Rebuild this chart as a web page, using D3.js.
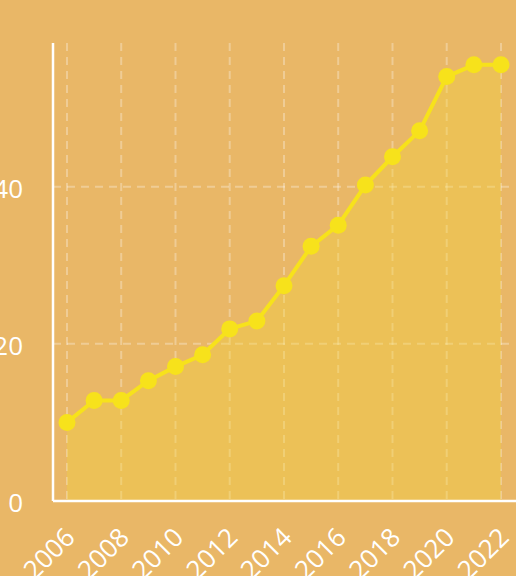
<!DOCTYPE html>
<html>
<head>
<meta charset="utf-8">
<script src="https://cdn.jsdelivr.net/npm/d3@7"></script>
<style>
html,body{margin:0;padding:0;background:#E9B767;}
svg{display:block;}
</style>
</head>
<body>
<svg id="chart" width="516" height="576"></svg>
<script>
const years = [2006,2007,2008,2009,2010,2011,2012,2013,2014,2015,2016,2017,2018,2019,2020,2021,2022];
const values = [10.0,12.8,12.8,15.3,17.1,18.6,21.9,22.9,27.4,32.4,35.1,40.2,43.8,47.1,54.0,55.5,55.5];
const yTicks = [0,20,40];
const xTickYears = [2006,2008,2010,2012,2014,2016,2018,2020,2022];

(function(){
const W = 516, H = 576;
const mLeft = 53, mRight = 516, mTop = 43, mBottom = 501;
const svg = d3.select("#chart");
svg.append("rect").attr("width",W).attr("height",H).attr("fill","#E9B767");

const parse = y => new Date(y,0,1);
const data = years.map((y,i)=>({date:parse(y), v:values[i]}));

const x = d3.scaleTime().domain([parse(2006),parse(2022)]).range([67,501]);
const y = d3.scaleLinear().domain([0, d3.max(values)*1.05]).range([mBottom, mTop]);

const grid = svg.append("g").attr("stroke","rgba(255,255,255,0.3)").attr("stroke-width",2).attr("stroke-dasharray","8,6");
grid.selectAll("line.v").data(xTickYears).join("line")
  .attr("x1",d=>x(parse(d))).attr("x2",d=>x(parse(d)))
  .attr("y1",mTop).attr("y2",mBottom);
grid.selectAll("line.h").data(yTicks.filter(d=>d>0)).join("line")
  .attr("x1",mLeft).attr("x2",510)
  .attr("y1",d=>y(d)).attr("y2",d=>y(d));

const area = d3.area().x(d=>x(d.date)).y0(y(0)).y1(d=>y(d.v));
svg.append("path").datum(data).attr("d",area).attr("fill","#F3D43A").attr("fill-opacity",0.35);

const line = d3.line().x(d=>x(d.date)).y(d=>y(d.v));
svg.append("path").datum(data).attr("d",line).attr("fill","none").attr("stroke","#F7E21B").attr("stroke-width",4);

svg.selectAll("circle.pt").data(data).join("circle")
  .attr("cx",d=>x(d.date)).attr("cy",d=>y(d.v)).attr("r",8.5).attr("fill","#F7E21B");

const yAxis = d3.axisLeft(y).tickValues(yTicks).tickSize(0).tickPadding(30).tickFormat(d3.format("d"));
const gy = svg.append("g").attr("transform",`translate(${mLeft},0)`).call(yAxis);
gy.select(".domain").remove();
gy.selectAll("text").attr("fill","#fff").attr("font-family","Open Sans").attr("font-size",26).attr("font-weight",400).attr("dy","0.4em");
svg.append("line").attr("x1",mLeft).attr("x2",mLeft).attr("y1",mTop).attr("y2",mBottom).attr("stroke","#fff").attr("stroke-width",2.5);

const xAxis = d3.axisBottom(x).tickValues(xTickYears.map(parse)).tickSize(0).tickFormat(d3.timeFormat("%Y"));
const gx = svg.append("g").attr("transform",`translate(0,${mBottom})`).call(xAxis);
gx.select(".domain").remove();
gx.selectAll("text").attr("fill","#fff").attr("font-family","Open Sans").attr("font-size",26).attr("font-weight",400)
  .attr("text-anchor","end").attr("dy",null).attr("y",null)
  .attr("transform","translate(9,38) rotate(-45)");
svg.append("line").attr("x1",mLeft).attr("x2",mRight).attr("y1",mBottom).attr("y2",mBottom).attr("stroke","#fff").attr("stroke-width",2.5);
})();
</script>
</body>
</html>
